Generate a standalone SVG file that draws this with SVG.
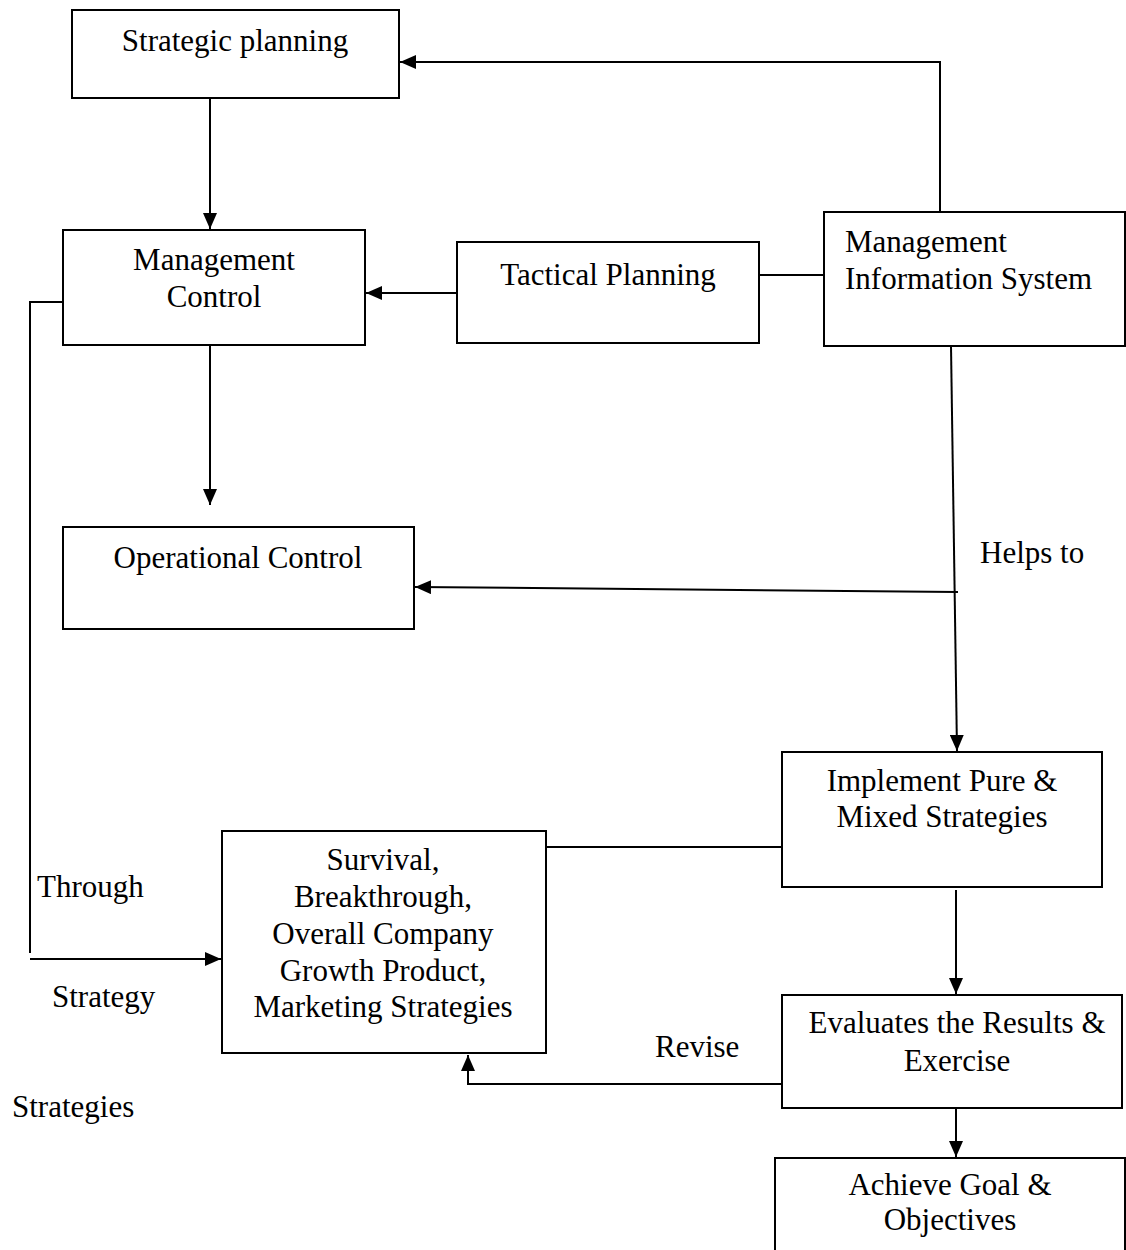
<svg xmlns="http://www.w3.org/2000/svg" width="1126" height="1250" viewBox="0 0 1126 1250">
  <style>
    .box { fill: #ffffff; stroke: #000000; stroke-width: 2; }
    .wire { fill: none; stroke: #000000; stroke-width: 2; }
    text { font-family: "Liberation Serif", "Times New Roman", serif; font-size: 31px; fill: #000000; }
    .c { text-anchor: middle; }
  </style>
  <defs>
    <marker id="arrow" markerUnits="userSpaceOnUse" markerWidth="16" markerHeight="14" refX="16" refY="7" orient="auto">
      <path d="M0,0 L16,7 L0,14 z" fill="#000000"/>
    </marker>
  </defs>

  <rect width="1126" height="1250" fill="#ffffff"/>

  <!-- connectors -->
  <g id="connectors">
    <line class="wire" x1="210" y1="97" x2="210" y2="229" marker-end="url(#arrow)"/>
    <polyline class="wire" points="940,212 940,62 400,62" marker-end="url(#arrow)"/>
    <line class="wire" x1="457" y1="293" x2="366" y2="293" marker-end="url(#arrow)"/>
    <line class="wire" x1="759" y1="275" x2="824" y2="275"/>
    <line class="wire" x1="210" y1="345" x2="210" y2="505" marker-end="url(#arrow)"/>
    <line class="wire" x1="951" y1="346" x2="957" y2="751" marker-end="url(#arrow)"/>
    <line class="wire" x1="958" y1="592" x2="415" y2="587" marker-end="url(#arrow)"/>
    <polyline class="wire" points="63,302 30,302 30,953"/>
    <line class="wire" x1="30" y1="959" x2="221" y2="959" marker-end="url(#arrow)"/>
    <line class="wire" x1="546" y1="847" x2="782" y2="847"/>
    <line class="wire" x1="956" y1="890" x2="956" y2="994" marker-end="url(#arrow)"/>
    <polyline class="wire" points="782,1084 468,1084 468,1055" marker-end="url(#arrow)"/>
    <line class="wire" x1="956" y1="1108" x2="956" y2="1157" marker-end="url(#arrow)"/>
  </g>

  <!-- free labels -->
  <g id="labels">
    <text x="980" y="563">Helps to</text>
    <text x="37" y="897">Through</text>
    <text x="52" y="1007">Strategy</text>
    <text x="12" y="1117">Strategies</text>
    <text x="655" y="1057">Revise</text>
  </g>

  <!-- nodes -->
  <g id="strategic-planning">
    <rect class="box" x="72" y="10" width="327" height="88"/>
    <text class="c" x="235" y="51">Strategic planning</text>
  </g>
  <g id="management-control">
    <rect class="box" x="63" y="230" width="302" height="115"/>
    <text class="c" x="214" y="270">Management</text>
    <text class="c" x="214" y="307">Control</text>
  </g>
  <g id="tactical-planning">
    <rect class="box" x="457" y="242" width="302" height="101"/>
    <text class="c" x="608" y="285">Tactical Planning</text>
  </g>
  <g id="mis">
    <rect class="box" x="824" y="212" width="301" height="134"/>
    <text x="845" y="252">Management</text>
    <text x="845" y="289">Information System</text>
  </g>
  <g id="operational-control">
    <rect class="box" x="63" y="527" width="351" height="102"/>
    <text class="c" x="238" y="568">Operational Control</text>
  </g>
  <g id="implement">
    <rect class="box" x="782" y="752" width="320" height="135"/>
    <text class="c" x="942" y="791">Implement Pure &amp;</text>
    <text class="c" x="942" y="827">Mixed Strategies</text>
  </g>
  <g id="strategies">
    <rect class="box" x="222" y="831" width="324" height="222"/>
    <text class="c" x="383" y="870">Survival,</text>
    <text class="c" x="383" y="907">Breakthrough,</text>
    <text class="c" x="383" y="944">Overall Company</text>
    <text class="c" x="383" y="981">Growth Product,</text>
    <text class="c" x="383" y="1017">Marketing Strategies</text>
  </g>
  <g id="evaluates">
    <rect class="box" x="782" y="995" width="340" height="113"/>
    <text class="c" x="957" y="1033">Evaluates the Results &amp;</text>
    <text class="c" x="957" y="1071">Exercise</text>
  </g>
  <g id="achieve">
    <rect class="box" x="775" y="1158" width="350" height="110"/>
    <text class="c" x="950" y="1195">Achieve Goal &amp;</text>
    <text class="c" x="950" y="1230">Objectives</text>
  </g>
</svg>
